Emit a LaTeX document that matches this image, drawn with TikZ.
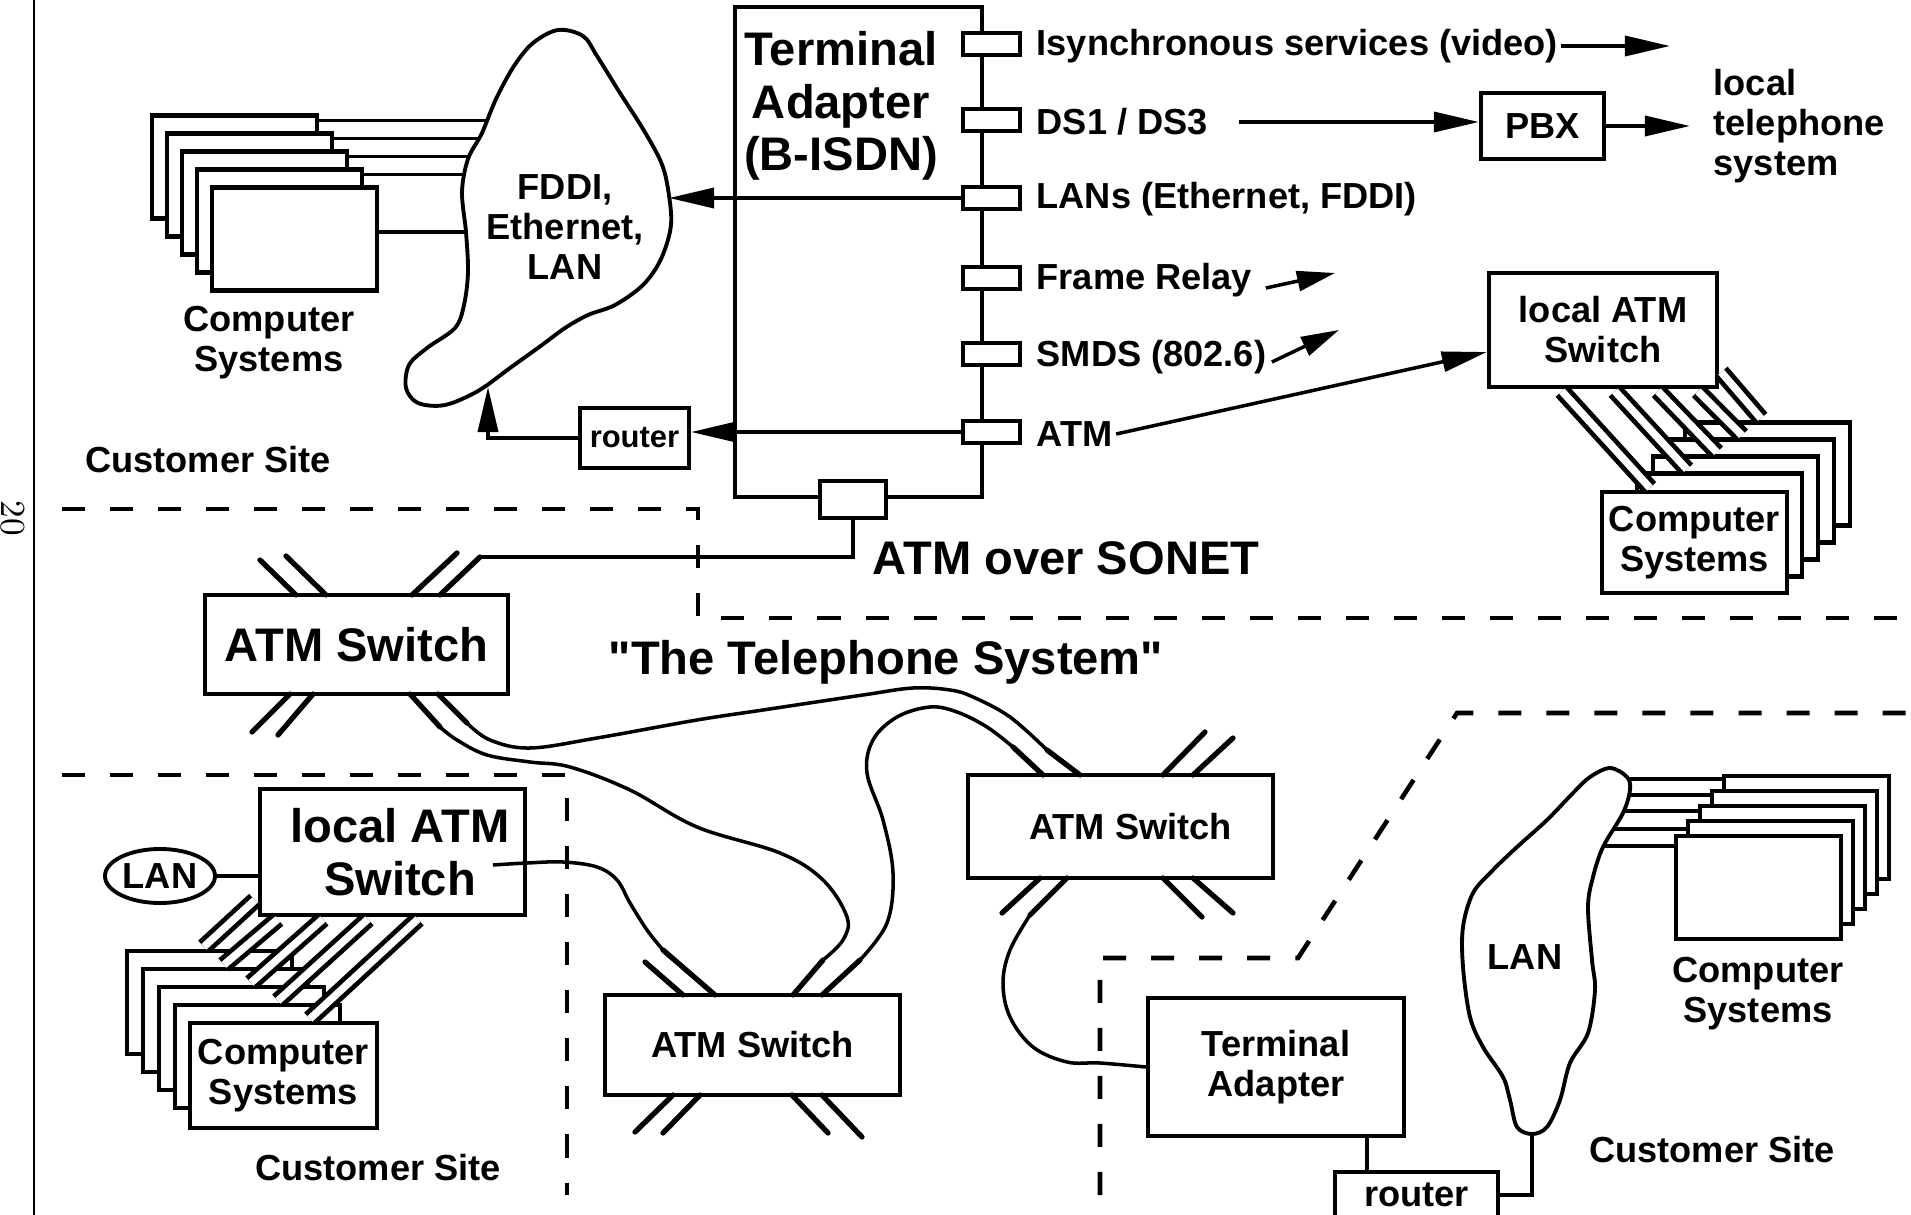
\documentclass[tikz,border=0pt]{standalone}
\usepackage{fontspec}
\newfontfamily\helv{Liberation Sans}
\usepackage{tikz}
\usetikzlibrary{arrows.meta, positioning, calc, shapes.geometric}
\newcommand{\txtnorm}{\helv\bfseries\fontsize{10.3}{11.4}\selectfont}
\newcommand{\txtbig}{\helv\bfseries\fontsize{13.4}{15}\selectfont}
\newcommand{\txtsmall}{\helv\bfseries\fontsize{8.8}{10}\selectfont}
\tikzset{
  box/.style={draw, line width=1.2pt, fill=white, inner sep=0pt, align=center, font=\txtnorm},
  port/.style={draw, line width=1.1pt, fill=white, inner sep=0pt, minimum width=0.57cm, minimum height=0.22cm},
  pc/.style={box, minimum width=1.65cm, minimum height=1.03cm},
  lbl/.style={font=\txtnorm, align=center, inner sep=0pt},
  blbl/.style={font=\txtbig, align=center, inner sep=0pt},
  link/.style={line width=1pt},
  spike/.style={line width=1.5pt, line cap=round},
  cable/.style={double, line width=1.35pt, double distance=0.075cm},
  site/.style={line width=1.3pt, dash pattern=on 0.23cm off 0.25cm},
  arr/.style={link, -{Triangle[length=0.45cm, width=0.2cm]}},
  sarr/.style={link, -{Triangle[length=0.38cm, width=0.2cm]}},
  lanarea/.style={line width=1.1pt, fill=white}
}

\begin{document}
\begin{tikzpicture}[x=0.01cm, y=-0.01cm]
\useasboundingbox (0,0) rectangle (1911,1215);
\draw[line width=0.6pt] (34,0) -- (34,1215);
\node[rotate=-90, font=\rmfamily\fontsize{10}{11}\selectfont] (pageno) at (13,518) {20};

\draw[site] (62,509) -- (698,509) -- (698,618) -- (1911,618);
\draw[site] (62,775) -- (567,775) -- (567,1195);
\draw[site] (1100,1195) -- (1100,958) -- (1298,958) -- (1457,713) -- (1911,713);

\node[pc] (csA4) at (234.5,167) {};
\node[pc] (csA3) at (249.5,185) {};
\node[pc] (csA2) at (264.5,203) {};
\node[pc] (csA1) at (279.5,221) {};
\node[pc] (csA0) at (294.5,239) {};
\draw[link] ([yshift=-0.07cm]csA4.north east) -- ++(190,0);
\draw[link] ([yshift=-0.07cm]csA3.north east) -- ++(180,0);
\draw[link] ([yshift=-0.07cm]csA2.north east) -- ++(170,0);
\draw[link] ([yshift=-0.07cm]csA1.north east) -- ++(150,0);
\draw[link] ([yshift=0.07cm]csA0.east) -- ++(120,0);
\node[lbl] (csAtxt) at (269,343) {Computer\\Systems};
\draw[lanarea] plot[smooth cycle, tension=0.55] coordinates {(558,30) (583,36) (597,56) (620,93) (643,129) (661,162) (668,189) (671,225) (661,259) (643,285) (615,305) (588,315) (565,328) (542,345) (510,368) (478,391) (445,405) (418,403) (406,388) (409,365) (427,348) (455,328) (464,305) (468,272) (466,232) (462,192) (468,159) (482,133) (496,99) (514,66) (533,43)};
\node[lbl] (fddi) at (565,227) {FDDI,\\Ethernet,\\LAN};
\coordinate (fddiR) at (669,198);
\coordinate (fddiB) at (488,387);
\node[lbl] (siteA) at (208,460) {Customer Site};

\node[box, minimum width=2.47cm, minimum height=4.9cm] (tab) at (858.5,252) {};
\node[blbl] (tabtxt) at (841,106) {Terminal\\Adapter\\(B-ISDN)};
\node[port] (p1) at (991.5,44) {};
\node[port] (p2) at (991.5,120) {};
\node[port] (p3) at (991.5,198) {};
\node[port] (p4) at (991.5,278) {};
\node[port] (p5) at (991.5,354) {};
\node[port] (p6) at (991.5,432) {};
\node[port, minimum width=0.66cm, minimum height=0.37cm] (sonet) at (853,499.5) {};
\node[lbl, anchor=west] (isync) at (1036,46) {Isynchronous services (video)};
\node[lbl, anchor=west] (ds) at (1036,122) {DS1 / DS3};
\node[lbl, anchor=west] (lans) at (1036,199) {LANs (Ethernet, FDDI)};
\node[lbl, anchor=west] (frame) at (1036,280) {Frame Relay};
\node[lbl, anchor=west] (smds) at (1036,357) {SMDS (802.6)};
\node[lbl, anchor=west] (atmlbl) at (1036,434) {ATM};
\node[box, font=\txtsmall, minimum width=1.09cm, minimum height=0.6cm] (rtA) at (634.5,438) {router};
\draw[arr] (p3.west) -- (fddiR);
\draw[arr] (p6.west) -- (p6.west -| rtA.east);
\draw[arr] (rtA.west) -| (fddiB);

\node[box, minimum width=1.23cm, minimum height=0.66cm] (pbx) at (1542.5,126) {PBX};
\node[lbl, anchor=west, align=left] (tel) at (1713,126) {local\\telephone\\system};
\coordinate (isyncend) at (1670,46);
\draw[arr] ([xshift=0.02cm]isync.east) -- (isyncend);
\draw[arr] ([xshift=0.3cm]ds.east) -- (ds.east -| pbx.west);
\draw[arr] (pbx.east) -- ([xshift=-0.23cm]pbx.east -| tel.west);
\coordinate (frameend) at (1335,273);
\draw[sarr] ([xshift=0.13cm, yshift=-0.08cm]frame.east) -- (frameend);
\coordinate (smdsend) at (1339,330);
\draw[sarr] ([xshift=0.05cm, yshift=-0.05cm]smds.east) -- (smdsend);

\node[box, minimum width=2.28cm, minimum height=1.14cm] (lsw1) at (1603,330) {local ATM\\Switch};
\draw[arr] ([xshift=0.03cm]atmlbl.east) -- ([yshift=-0.22cm]lsw1.west);
\node[pc] (csB4) at (1767.5,474) {};
\node[pc] (csB3) at (1751.5,491) {};
\node[pc] (csB2) at (1735.5,508) {};
\node[pc] (csB1) at (1719.5,525) {};
\node[pc, minimum width=1.85cm, minimum height=1.01cm] (csB0) at (1694.5,542.5) {Computer\\Systems};
\draw[cable] ([xshift=0.75cm, yshift=-0.02cm]lsw1.south west) -- ([xshift=0.5cm, yshift=0.02cm]csB0.north west);
\draw[cable] ([xshift=1.28cm, yshift=-0.02cm]lsw1.south west) -- ([xshift=0.52cm, yshift=0.02cm]csB1.north west);
\draw[cable] ([xshift=1.71cm, yshift=-0.02cm]lsw1.south west) -- ([xshift=0.66cm, yshift=0.02cm]csB2.north west);
\draw[cable] ([xshift=2.11cm, yshift=-0.02cm]lsw1.south west) -- ([xshift=0.75cm, yshift=0.02cm]csB3.north west);
\draw[cable] ([xshift=0.02cm, yshift=0.17cm]lsw1.south east) -- ([xshift=0.78cm, yshift=0.02cm]csB4.north west);

\node[box, font=\txtbig, minimum width=3.03cm, minimum height=0.99cm] (sw1) at (356.5,644.5) {ATM Switch};
\draw[spike] (296,595) -- (260,560);
\draw[spike] (326,595) -- (286,556);
\draw[spike] (412,595) -- (457,553);
\draw[spike] (290,694) -- (252,732);
\draw[spike] (313,694) -- (278,735);
\draw[spike] (440,595) -- (480,557);
\draw[link] (480,557) -- (853,557) -- (sonet.south);
\node[blbl] (sonettxt) at (1066,558) {ATM over SONET};
\node[blbl] (telsys) at (886,662) {"The Telephone System"};

\node[box, minimum width=3.05cm, minimum height=1.03cm] (sw2) at (1120.5,826.5) {\hspace*{0.2cm}ATM Switch};
\draw[spike] (1163,775) -- (1205,732);
\draw[spike] (1193,775) -- (1233,738);
\draw[spike] (1040,878) -- (1002,913);
\draw[spike] (1163,878) -- (1202,917);
\draw[spike] (1193,878) -- (1233,913);

\node[box, minimum width=2.95cm, minimum height=1.0cm] (sw3) at (752.5,1045) {ATM Switch};
\draw[spike] (683,995) -- (645,962);
\draw[spike] (673,1095) -- (635,1132);
\draw[spike] (700,1095) -- (663,1133);
\draw[spike] (792,1095) -- (828,1133);
\draw[spike] (822,1095) -- (862,1137);

\node[box, font=\txtbig, minimum width=2.65cm, minimum height=1.26cm] (lsw2) at (392.5,852) {\hspace*{0.15cm}local ATM\\\hspace*{0.15cm}Switch};
\node[draw, ellipse, line width=1.1pt, minimum width=1.1cm, minimum height=0.54cm, inner sep=0pt, font=\txtnorm] (lanA) at (160,876) {LAN};
\draw[link] (lanA.east) -- (lanA.east -| lsw2.west);
\node[pc] (csC4) at (209.5,1002.5) {};
\node[pc] (csC3) at (225.5,1020.5) {};
\node[pc] (csC2) at (241.5,1038.5) {};
\node[pc] (csC1) at (257.5,1056.5) {};
\node[pc, minimum width=1.87cm, minimum height=1.05cm] (csC0) at (283.5,1075.5) {Computer\\Systems};
\draw[cable] ([xshift=1.6cm, yshift=-0.02cm]lsw2.south west) -- ([xshift=1.22cm, yshift=0.02cm]csC0.north west);
\draw[cable] ([xshift=1.1cm, yshift=-0.02cm]lsw2.south west) -- ([xshift=1.05cm, yshift=0.02cm]csC1.north west);
\draw[cable] ([xshift=0.65cm, yshift=-0.02cm]lsw2.south west) -- ([xshift=0.94cm, yshift=0.02cm]csC2.north west);
\draw[cable] ([xshift=0.2cm, yshift=-0.02cm]lsw2.south west) -- ([xshift=0.83cm, yshift=0.02cm]csC3.north west);
\draw[cable] ([xshift=-0.03cm, yshift=0.17cm]lsw2.south west) -- ([xshift=0.79cm, yshift=0.02cm]csC4.north west);
\node[lbl] (siteC) at (378,1168) {Customer Site};

\coordinate (aS) at (467,723);
\coordinate (aE) at (1047,750);
\draw[spike] (438,694) -- (aS);
\draw[link] plot[smooth, tension=0.6] coordinates {(aS) (490,740) (530,748) (597,738) (697,720) (763,710) (863,695) (913,688) (950,690) (973,697) (1010,717) (aE)};
\draw[spike] (aE) -- (1080,775);
\coordinate (bS) at (440,727);
\coordinate (bE) at (823,960);
\draw[spike] (410,694) -- (bS);
\draw[link] plot[smooth, tension=0.6] coordinates {(bS) (457,740) (487,755) (530,762) (570,767) (630,790) (697,827) (780,853) (823,880) (847,917) (843,940) (bE)};
\draw[spike] (bE) -- (793,995);
\coordinate (cS) at (493,865);
\coordinate (cE) at (663,950);
\draw[link] plot[smooth, tension=0.6] coordinates {(cS) (527,863) (563,862) (597,867) (617,880) (630,903) (647,930) (cE)};
\draw[spike] (cE) -- (715,995);
\coordinate (dS) at (860,960);
\coordinate (dE) at (1013,747);
\draw[spike] (822,995) -- (dS);
\draw[link] plot[smooth, tension=0.6] coordinates {(dS) (887,923) (893,873) (883,820) (867,773) (873,740) (897,717) (930,707) (957,712) (987,727) (dE)};
\draw[spike] (dE) -- (1043,775);

\node[box, minimum width=2.56cm, minimum height=1.38cm] (tac) at (1276,1067) {Terminal\\Adapter};
\coordinate (eS) at (1030,915);
\draw[spike] (1067,878) -- (eS);
\draw[link] plot[smooth, tension=0.6] coordinates {(eS) (1010,950) (1003,983) (1010,1017) (1033,1047) (1067,1062) (1100,1063) (tac.west)};
\node[box, minimum width=1.63cm, minimum height=0.46cm] (rtB) at (1416.5,1195) {router};
\draw[link] ([xshift=0.91cm]tac.south) -- ([xshift=0.91cm]tac.south |- rtB.north);

\node[pc] (csD4) at (1806.5,827.5) {};
\node[pc] (csD3) at (1794.5,842.5) {};
\node[pc] (csD2) at (1782.5,857.5) {};
\node[pc] (csD1) at (1770.5,872.5) {};
\node[pc] (csD0) at (1758.5,887.5) {};
\draw[link] ([yshift=-0.05cm]csD4.north west) -- ++(-130,0);
\draw[link] ([yshift=-0.06cm]csD3.north west) -- ++(-110,0);
\draw[link] ([yshift=-0.07cm]csD2.north west) -- ++(-100,0);
\draw[link] ([yshift=-0.1cm]csD1.north west) -- ++(-95,0);
\draw[link] ([yshift=-0.12cm]csD0.north west) -- ++(-85,0);
\draw[lanarea] plot[smooth cycle, tension=0.55] coordinates {(1610,768) (1627,777) (1630,790) (1623,813) (1603,847) (1593,877) (1588,907) (1592,960) (1595,990) (1588,1033) (1570,1063) (1560,1100) (1547,1127) (1532,1134) (1517,1127) (1510,1100) (1503,1077) (1483,1047) (1470,1017) (1463,967) (1463,927) (1473,893) (1493,870) (1517,847) (1547,820) (1573,793) (1590,777)};
\node[lbl] (lanB) at (1525,957) {LAN};
\coordinate (lanBfoot) at (1532,1134);
\draw[link] (rtB.east) -| (lanBfoot);
\node[lbl] (csDtxt) at (1758,994) {Computer\\Systems};
\node[lbl] (siteD) at (1712,1150) {Customer Site};
\end{tikzpicture}
\end{document}
